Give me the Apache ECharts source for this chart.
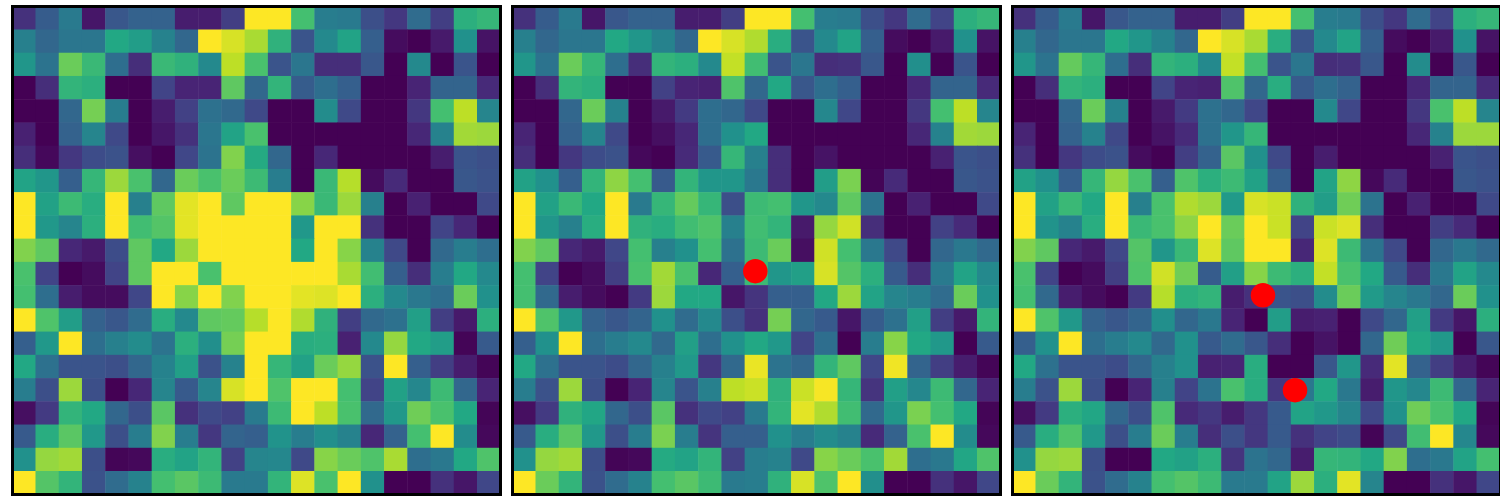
<!DOCTYPE html>
<html><head><meta charset="utf-8">
<style>html,body{margin:0;padding:0;background:#fff}#c{width:1500px;height:500px}</style>
<script src="https://cdn.jsdelivr.net/npm/echarts@6/dist/echarts.min.js"></script>
</head><body><div id="c"></div>
<script>
const panelA = [
[14,29,41,6,27,31,31,8,8,18,100,100,70,42,41,24,16,35,18,63,66],
[43,33,39,39,60,55,44,33,100,94,87,64,26,47,58,30,3,0,7,50,5],
[52,38,77,67,36,13,67,64,47,90,71,26,39,13,13,27,0,47,0,26,0],
[0,13,65,63,0,0,20,10,10,75,33,65,29,36,30,0,0,10,32,32,12],
[0,0,33,79,42,0,8,19,37,34,22,0,0,48,22,0,0,16,70,90,45],
[9,0,31,45,22,0,6,14,39,58,71,0,0,0,0,0,0,11,44,86,85],
[13,2,16,23,25,4,0,21,38,81,61,33,0,11,0,0,0,0,8,26,24],
[58,52,30,66,85,71,33,77,71,77,68,42,0,67,89,3,12,0,0,27,25],
[100,57,68,62,100,43,75,96,100,75,100,100,82,67,85,43,0,9,0,0,22],
[100,53,45,63,100,69,73,96,100,100,100,100,53,100,100,14,0,0,20,11,0],
[81,75,11,7,23,75,60,85,100,100,100,100,60,100,82,44,22,0,34,42,36],
[71,20,0,3,20,75,100,100,71,100,100,100,100,100,87,69,30,13,42,60,47],
[70,36,8,3,3,21,100,82,100,81,100,100,96,95,100,63,47,40,36,77,50],
[100,72,55,31,27,35,62,47,75,76,89,100,88,64,18,34,37,56,18,7,63],
[30,53,100,36,43,48,38,63,49,79,100,100,62,63,9,47,84,60,55,1,28],
[60,37,26,26,24,33,44,56,25,44,100,66,57,77,84,25,100,30,18,8,1],
[42,24,85,24,0,11,45,28,45,94,100,72,100,100,70,20,57,46,68,33,10],
[4,17,65,60,33,24,74,14,22,19,41,68,100,90,71,34,53,78,71,60,1],
[28,62,74,53,24,42,81,42,16,32,30,51,42,49,44,11,31,70,100,48,2],
[50,84,86,24,1,2,62,58,65,19,45,46,22,82,77,72,87,36,40,60,72],
[100,73,65,25,35,44,70,74,68,41,41,65,95,71,100,50,0,0,14,6,21]
];
const panelB = [
[14,29,41,6,27,31,31,8,8,18,100,100,70,42,41,24,16,35,20,63,66],
[43,33,39,39,60,52,44,33,100,94,88,62,26,47,58,30,3,0,7,50,5],
[52,38,77,66,36,13,65,63,47,91,69,26,39,13,14,27,0,49,0,26,0],
[0,13,65,63,0,0,19,10,9,72,33,60,27,36,30,0,0,11,32,32,12],
[0,0,33,77,44,0,7,17,36,33,22,0,0,46,21,0,0,16,70,90,45],
[10,0,31,45,22,0,4,11,36,50,60,0,0,0,0,0,0,11,44,86,85],
[13,0,16,23,25,2,0,12,28,66,43,13,0,5,0,0,0,0,9,26,24],
[57,50,30,65,83,70,28,65,52,52,40,13,0,55,80,1,12,0,0,27,25],
[100,57,67,60,100,41,66,76,66,24,68,70,52,47,75,38,0,9,0,0,22],
[100,52,43,62,100,64,62,69,72,43,69,65,7,84,93,13,0,0,19,12,0],
[81,75,11,7,21,70,43,50,70,37,68,77,4,93,70,40,22,0,33,40,34],
[70,20,0,3,18,71,86,71,11,30,68,52,56,94,73,63,28,13,41,58,47],
[70,34,8,3,0,17,85,60,60,6,15,30,30,60,85,58,45,42,35,77,50],
[100,72,53,31,27,32,50,35,47,24,14,79,33,28,6,29,37,56,18,7,65],
[30,50,100,36,42,47,34,56,36,50,60,53,20,36,0,42,82,60,53,0,28],
[60,37,26,26,23,33,43,53,16,34,97,38,33,65,75,21,98,32,18,8,1],
[42,25,85,24,0,10,45,26,43,90,92,64,92,99,66,15,56,46,68,33,10],
[4,17,64,59,33,24,74,14,22,19,41,65,96,88,69,34,52,80,70,60,1],
[28,62,74,53,24,42,80,42,15,30,30,50,42,48,44,12,31,71,100,48,2],
[50,84,86,24,1,2,61,58,65,19,42,44,22,82,77,71,86,36,40,59,72],
[100,77,65,25,35,44,70,74,68,41,42,64,94,72,100,49,0,0,14,6,21]
];
const panelC = [
[14,29,41,6,27,31,31,8,8,18,100,100,70,42,41,24,16,35,20,63,66],
[43,33,39,39,60,52,44,33,100,94,87,62,26,47,58,30,3,0,7,50,5],
[52,38,76,66,36,13,65,63,47,91,70,26,39,13,14,27,0,48,0,27,0],
[0,13,65,63,0,0,20,10,9,72,33,62,28,36,31,0,0,11,32,32,12],
[0,0,33,77,44,0,7,17,37,33,21,0,0,47,21,0,0,16,71,90,45],
[10,0,31,44,22,0,5,12,37,52,66,0,0,0,0,0,0,11,44,85,85],
[14,0,16,23,25,3,0,18,31,74,50,22,0,8,0,0,0,0,9,26,24],
[57,50,30,66,84,71,30,72,63,68,57,30,0,58,83,2,12,0,0,27,25],
[100,57,67,60,100,43,71,88,85,54,94,92,64,55,78,38,0,9,0,0,22],
[100,51,44,62,100,67,71,83,100,77,100,92,20,92,95,13,0,0,18,12,0],
[81,75,11,7,21,73,52,67,95,75,100,100,11,95,68,38,22,0,33,40,34],
[71,20,0,3,18,72,93,78,29,56,82,68,63,91,71,60,28,13,40,58,47],
[70,34,8,3,0,17,89,63,65,8,14,26,24,48,77,54,45,40,33,77,50],
[100,72,53,31,27,32,49,33,40,10,0,55,8,9,0,22,33,56,17,6,63],
[30,50,100,36,42,47,34,50,28,35,27,13,0,5,0,33,78,60,53,0,27],
[60,37,26,26,23,33,43,50,9,10,62,0,0,27,52,12,96,31,18,8,1],
[42,25,85,24,0,10,43,20,38,71,62,16,40,60,40,8,52,46,68,33,10],
[4,17,63,59,33,24,72,12,16,8,16,28,58,53,45,21,50,78,71,60,1],
[28,62,72,53,24,42,77,42,13,24,16,28,14,20,23,1,22,69,100,46,2],
[50,84,85,24,0,0,60,57,63,15,38,33,8,66,65,60,81,36,40,58,70],
[100,77,65,25,35,44,70,73,68,41,41,58,85,63,96,45,0,0,14,6,21]
];
const pointsA = [];
const pointsB = [[9.95,10.89]];
const pointsC = [[10.29,11.93],[11.67,16.01]];
const indices = panelA.map((_, i) => i);
const viridis = ['#440154','#482475','#414487','#355f8d','#2a788e','#21918c','#22a884','#44bf70','#7ad151','#bddf26','#fde725'];
const panels = [panelA, panelB, panelC];
const points = [pointsA, pointsB, pointsC];
const lefts = [12.5, 512.5, 1012.5];

const frame = {show:true, onZero:false, lineStyle:{color:'#000', width:3, cap:'square'}};
const grid = [], xAxis = [], yAxis = [], series = [];
panels.forEach((panel, p) => {
  grid.push({left:lefts[p], top:6.5, width:488, height:488, show:false});
  const g = {gridIndex:p, axisTick:{show:false}, axisLabel:{show:false}, splitLine:{show:false}, axisLine:frame, z:10};
  const cx = xAxis.length, cy = yAxis.length;
  xAxis.push({...g, type:'category', data:indices, position:'bottom'});
  xAxis.push({...g, type:'value', min:-0.5, max:20.5, position:'top'});
  yAxis.push({...g, type:'category', data:indices, inverse:true, position:'left'});
  yAxis.push({...g, type:'value', min:-0.5, max:20.5, inverse:true, position:'right'});
  const cells = [];
  panel.forEach((row, r) => row.forEach((v, c) => cells.push([c, r, v])));
  series.push({type:'heatmap', xAxisIndex:cx, yAxisIndex:cy, data:cells, z:2, itemStyle:{borderWidth:0}, emphasis:{disabled:true}, progressive:0});
  if (points[p].length) series.push({type:'scatter', xAxisIndex:cx+1, yAxisIndex:cy+1, data:points[p], symbol:'circle', symbolSize:24.5, itemStyle:{color:'#ff0000', opacity:1}, z:5, silent:true});
});
const heatIdx = series.map((s,i)=>s.type==='heatmap'?i:-1).filter(i=>i>=0);
const chart = echarts.init(document.getElementById('c'), null, {renderer:'canvas'});
chart.setOption({
  animation:false, backgroundColor:'#fff', grid, xAxis, yAxis, series,
  visualMap:{type:'continuous', min:0, max:100, show:false, dimension:2, seriesIndex:heatIdx, inRange:{color:viridis}}
});
</script></body></html>
